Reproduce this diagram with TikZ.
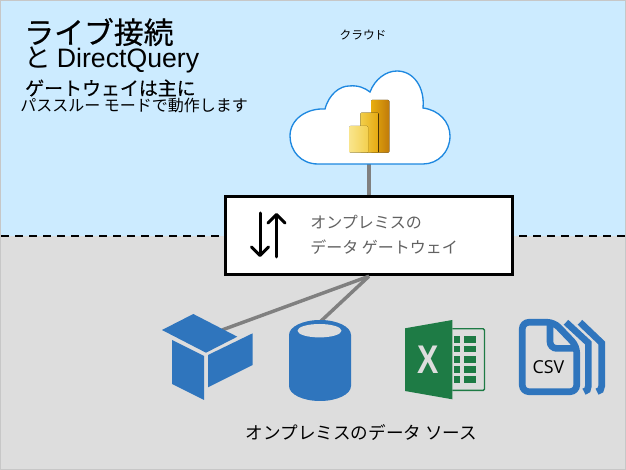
\documentclass[tikz,border=0pt]{standalone}
\usepackage{fontspec}
\setmainfont{Noto Sans CJK JP}
\newfontfamily\heavyfont[FakeBold=0.5]{Noto Sans CJK JP}
\newfontfamily\latinfont{Liberation Sans}
\newfontfamily\csvfont{Open Sans}
\usetikzlibrary{arrows.meta}
\definecolor{skyblue}{HTML}{CCEBFF}
\definecolor{floorgrey}{HTML}{DDDDDD}
\definecolor{iconblue}{HTML}{2F75BD}
\definecolor{excelgreen}{HTML}{1E7B45}
\definecolor{cloudline}{HTML}{1E88E0}
\definecolor{barone}{HTML}{F9E58C}
\definecolor{baronedark}{HTML}{F3D04F}
\definecolor{bartwo}{HTML}{F2CE4B}
\definecolor{bartwodark}{HTML}{E5A90F}
\definecolor{barthree}{HTML}{E8AE0E}
\definecolor{barthreedark}{HTML}{C07A0B}
\tikzset{
  txt/.style={inner sep=0pt,anchor=west,text=black},
  link/.style={draw=black!50,line width=2.6pt},
  blueicon/.style={fill=iconblue,draw=none},
  greencell/.style={fill=excelgreen,draw=none},
  flow/.style={line width=2.25pt,line cap=round,-{Straight Barb[round,length=6.5pt,width=13pt,line width=2.25pt]}},
  page/.style={draw=iconblue,line width=5pt,fill=none},
}
\begin{document}
\begin{tikzpicture}[x=0.75pt,y=-0.75pt]
\useasboundingbox (0,0) rectangle (626,470);
\fill[skyblue] (0,0) rectangle (626,236);
\fill[floorgrey] (0,236) rectangle (626,470);
\draw[black!22,line width=0.75pt] (0.5,0.5) rectangle (625.5,469.5);
\draw[line width=1.5pt,dash pattern=on 6pt off 4.5pt] (1,236) -- (626,236);
% titles
\node[txt,font=\heavyfont\fontsize{22.4}{24}\selectfont] (title) at (24,32) {ライブ接続};
\node[txt,font=\fontsize{20}{20}\selectfont] (subtitle) at (24,60) {と {\latinfont DirectQuery}};
\node[txt,font=\heavyfont\fontsize{14.2}{16}\selectfont] (mainly) at (25,88) {ゲートウェイは主に};
\node[txt,font=\fontsize{12}{14}\selectfont] (passthru) at (20,105) {パススルー モードで動作します};
\node[inner sep=0pt,font=\fontsize{8.8}{10}\selectfont] (cloudlabel) at (363,35) {クラウド};
\node[inner sep=0pt,font=\fontsize{13.2}{15}\selectfont] (sourcelabel) at (361.5,433) {オンプレミスのデータ ソース};
% gateway
\node[draw=black,fill=white,line width=2.6pt,minimum width=215pt,minimum height=58.5pt,inner sep=0pt] (gateway) at (369,235.5) {};
\node[txt,text=black!62,align=left,font=\fontsize{12}{18.5}\selectfont] (gatewaytext) at (310,235) {オンプレミスの\\データ ゲートウェイ};
\coordinate (downtop) at (260,213);
\coordinate (downend) at (260,257);
\coordinate (upbase) at (276.5,257);
\coordinate (uptop) at (276.5,213);
\draw[flow] (downtop) -- (downend);
\draw[flow] (upbase) -- (uptop);
% connectors
\coordinate (cloudbase) at (369,164);
\coordinate (cubeicon) at (222,330);
\coordinate (dbicon) at (320,322);
\draw[link] (cloudbase) -- (gateway.north);
\draw[link] (gateway.south) -- (cubeicon);
\draw[link] (gateway.south) -- (dbicon);
% cloud
\draw[cloudline,fill=white,line width=1pt] (318,164)
  .. controls (301,164) and (290,151) .. (290,136)
  .. controls (290,119) and (307,108) .. (325,109)
  .. controls (329,94) and (340,86) .. (349,86)
  .. controls (358,85) and (365,88) .. (370,92)
  .. controls (375,79) and (386,71) .. (397,71)
  .. controls (414,71) and (425,88) .. (423,108)
  .. controls (439,110) and (450,122) .. (450,136)
  .. controls (450,152) and (438,164) .. (423,164) -- cycle;
\fill[left color=barthree,right color=barthreedark,rounded corners=0.8pt] (371,100) rectangle (389.3,152.7);
\fill[left color=bartwo,right color=bartwodark,rounded corners=0.8pt] (360.3,112.7) rectangle (378.7,152.7);
\fill[left color=barone,right color=baronedark,rounded corners=0.8pt] (349.3,126) rectangle (368,152.7);
% cube
\fill[blueicon] (162,330) -- (193.3,314) -- (237.3,336.7) -- (206,352.7) -- cycle;
\fill[blueicon] (172,340) -- (204,356) -- (204,400) -- (172,384) -- cycle;
\fill[blueicon] (208,355) -- (252.7,333.3) -- (252.7,365) -- (208,387.3) -- cycle;
% database
\fill[blueicon] (289,335) arc[x radius=31,y radius=15,start angle=180,end angle=360] -- (351,386)
  arc[x radius=31,y radius=15,start angle=0,end angle=180] -- cycle;
\fill[floorgrey] (319.5,330.7) ellipse[x radius=22,y radius=6.7];
% excel
\draw[excelgreen,line width=1pt,rounded corners=1pt] (452.3,328.8) -- (484.5,328.8) -- (484.5,390.4) -- (452.3,390.4);
\foreach \ytop in {336,345.7,356,366,376} {
  \fill[greencell] (453.5,\ytop) rectangle (459.5,\ytop+6.7);
  \fill[greencell] (463.5,\ytop) rectangle (476,\ytop+6.7);
}
\fill[excelgreen] (405,328.3) -- (452.3,320) -- (452.3,399.3) -- (405,391) -- cycle;
\node[inner sep=0pt,text=floorgrey,font=\latinfont\bfseries\fontsize{30}{30}\selectfont] (excelx) at (428,360) {\scalebox{0.8}[1]{X}};
% csv
\draw[page] (580,322.3) -- (601.7,343) -- (601.7,386) .. controls (601.7,389) and (600,391.7) .. (597,391.7);
\draw[page] (566,322.3) -- (588.4,343) -- (588.4,386) .. controls (588.4,389) and (587,391.7) .. (584,391.7);
\draw[page,rounded corners=5pt] (535,322.3) -- (554,322.3) -- (576.7,346) -- (576.7,391.7) -- (522.3,391.7) -- (522.3,322.3) -- cycle;
\draw[page,rounded corners=5pt] (550,322.3) -- (550,348.4) -- (578,348.4);
\node[inner sep=0pt,font=\csvfont\fontsize{13.4}{14}\selectfont] (csvtext) at (548.5,367) {CSV};
\end{tikzpicture}
\end{document}
